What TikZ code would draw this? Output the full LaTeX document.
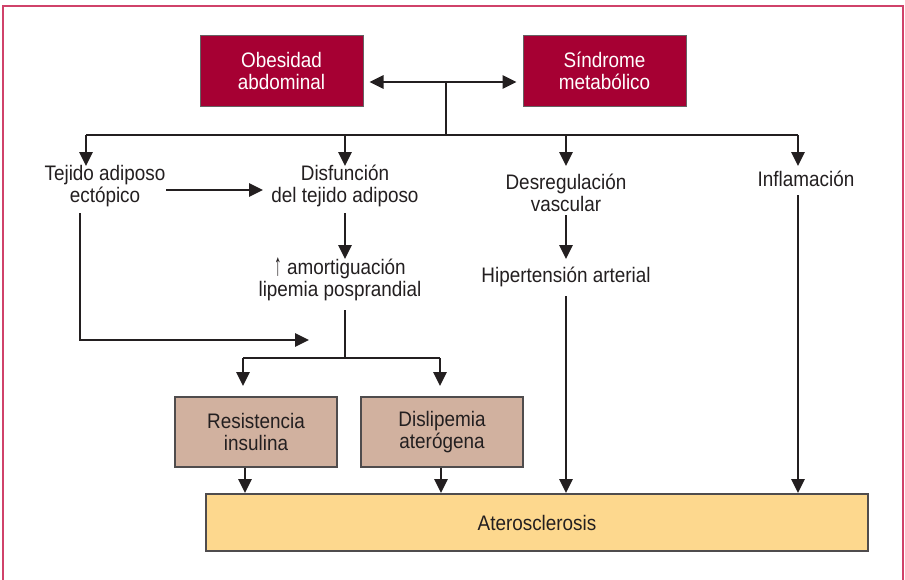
\documentclass[tikz,border=0pt]{standalone}
\usepackage{fontspec}
\usepackage{graphicx}
\setmainfont{Liberation Sans}[FakeStretch=0.9]
\usetikzlibrary{arrows.meta,calc}
\definecolor{crim}{HTML}{A60033}
\definecolor{tan}{HTML}{D1B19F}
\definecolor{yel}{HTML}{FDD88E}
\definecolor{frm}{HTML}{D0426A}
\definecolor{ink}{HTML}{231F20}
\begin{document}
\begin{tikzpicture}[x=1pt,y=-1pt,
  font=\fontsize{21}{22}\selectfont,
  line width=2.7pt,
  arr/.style={draw=ink,-{Triangle[length=14pt,width=13pt]}},
  arrb/.style={draw=ink,{Triangle[length=14pt,width=13pt]}-{Triangle[length=14pt,width=13pt]}},
  ln/.style={draw=ink},
  txt/.style={inner sep=0pt,align=center,text=ink},
  redbox/.style={draw=ink!70,line width=1pt,fill=crim,text=white,minimum width=163pt,minimum height=71pt,align=center,inner sep=0pt},
  tanbox/.style={draw=ink!80,line width=1.2pt,fill=tan,text=ink,minimum width=162pt,minimum height=70pt,align=center,inner sep=0pt},
  yelbox/.style={draw=ink!80,line width=1.2pt,fill=yel,text=ink,minimum width=662pt,minimum height=57pt,align=center,inner sep=0pt}]
\useasboundingbox (0,0) rectangle (905,579);
\fill[white] (0,0) rectangle (905,579);
\draw[frm,line width=1.6pt] (3,585) -- (3,6) -- (903,6) -- (903,585);

\node[redbox] (ob) at (281.5,70.5) {Obesidad\\abdominal};
\node[redbox] (sm) at (604.5,70.5) {Síndrome\\metabólico};
\draw[arrb,shorten <=6pt,shorten >=6pt] (ob.east |- 0,82) -- (sm.west |- 0,82);
\coordinate (hub) at (446,82);
\coordinate (bus) at (446,135);
\draw[ln] (hub) -- (bus);

\node[txt] (tej) at (105,186) {Tejido adiposo\\ectópico};
\node[txt] (dis) at (345,186) {Disfunción\\del tejido adiposo};
\node[txt] (des) at (566,193) {Desregulación\\vascular};
\node[txt] (inf) at (806,179) {Inflamación};
\node[txt] (amo) at (340,279) {\raisebox{-1pt}{\scalebox{0.8}[1.5]{↑}} amortiguación\\lipemia posprandial};
\node[txt] (hip) at (566,277) {Hipertensión arterial};
\node[tanbox] (res) at (256,432) {Resistencia\\insulina};
\node[tanbox] (dsl) at (442,432) {Dislipemia\\aterógena};
\node[yelbox] (ate) at (537,522.5) {Aterosclerosis};

\coordinate (b1) at (86,135);
\coordinate (b2) at (345,135);
\coordinate (b3) at (566,135);
\coordinate (b4) at (798,135);
\draw[ln] (b1) -- (b4);
\draw[arr] (b1) -- (86,166);
\draw[arr] (b2) -- (345,166);
\draw[arr] (b3) -- (566,166);
\draw[arr] (b4) -- (798,166);

\draw[arr] (166,190) -- (263,190);
\draw[arr] (80,213) -- (80,340) -- (309,340);
\draw[arr] (345,213) -- (345,259);
\draw[ln] (345,310) -- (345,358);
\draw[arr] (243,358) -- (243,386);
\draw[ln] (243,358) -- (440,358);
\draw[arr] (440,358) -- (440,386);
\draw[arr] (res.south -| 245,0) -- (245,493);
\draw[arr] (dsl.south -| 441,0) -- (441,493);
\draw[arr] (566,215) -- (566,259);
\draw[arr] (566,296) -- (566,493);
\draw[arr] (798,195) -- (798,493);
\end{tikzpicture}
\end{document}
